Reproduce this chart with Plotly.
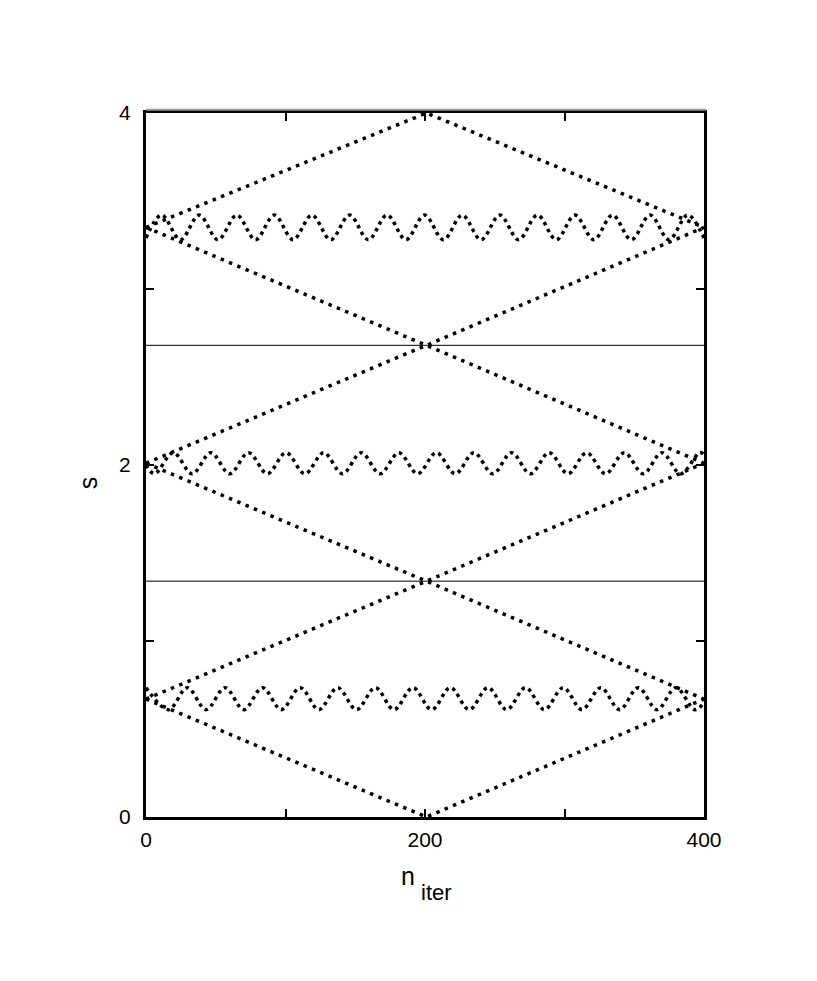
"""Iteration diagram: s versus n_iter, dotted trajectories with two separators."""
import plotly.graph_objects as go

# x positions of the straight dotted branches (start, apex, end)
DIAG_X = [0, 201, 400]
DIAG_A = [3.35, 4.00, 3.35]
DIAG_B = [3.35, 2.68, 3.35]
DIAG_C = [2.01, 2.68, 2.01]
DIAG_D = [2.01, 1.34, 2.01]
DIAG_E = [0.67, 1.34, 0.67]
DIAG_F = [0.67, 0.00, 0.67]

# wavy branches: turning points (peaks / troughs)
WAVE_TOP_X = [0, 11.2, 24.7, 38.1, 51.6, 65.1, 78.5, 92.0, 105.5, 118.9, 132.4,
              145.9, 159.4, 172.8, 186.3, 199.7, 213.2, 226.7, 240.2, 253.6,
              267.1, 280.6, 294.1, 307.5, 321.0, 334.4, 347.9, 361.4, 374.9,
              388.3, 400]
WAVE_TOP_Y = [3.29, 3.42, 3.28, 3.42, 3.28, 3.42, 3.28, 3.42, 3.28, 3.42, 3.28,
              3.42, 3.28, 3.42, 3.28, 3.42, 3.28, 3.42, 3.28, 3.42, 3.28, 3.42,
              3.28, 3.42, 3.28, 3.42, 3.28, 3.42, 3.28, 3.42, 3.29]

WAVE_MID_X = [0, 6.1, 19.6, 33.1, 46.5, 60.0, 73.5, 87.0, 100.4, 113.9, 127.4,
              140.8, 154.3, 167.8, 181.2, 194.7, 208.2, 221.7, 235.1, 248.6,
              262.1, 275.5, 289.0, 302.5, 315.9, 329.4, 342.9, 356.4, 369.8,
              383.3, 396.8, 400]
WAVE_MID_Y = [2.00, 1.95, 2.07, 1.95, 2.07, 1.95, 2.07, 1.95, 2.07, 1.95, 2.07,
              1.95, 2.07, 1.95, 2.07, 1.95, 2.07, 1.95, 2.07, 1.95, 2.07, 1.95,
              2.07, 1.95, 2.07, 1.95, 2.07, 1.95, 2.07, 1.95, 2.07, 2.06]

WAVE_LOW_X = [0, 16.2, 29.6, 43.1, 56.6, 70.1, 83.5, 97.0, 110.5, 123.9, 137.4,
              150.9, 164.4, 177.8, 191.3, 204.8, 218.2, 231.7, 245.2, 258.6,
              272.1, 285.6, 299.1, 312.5, 326.0, 339.5, 352.9, 366.4, 379.9,
              393.4, 400]
WAVE_LOW_Y = [0.735, 0.61, 0.735, 0.61, 0.735, 0.61, 0.735, 0.61, 0.735, 0.61,
              0.735, 0.61, 0.735, 0.61, 0.735, 0.61, 0.735, 0.61, 0.735, 0.61,
              0.735, 0.61, 0.735, 0.61, 0.735, 0.61, 0.735, 0.61, 0.735, 0.61,
              0.65]

HLINE_X = [0, 400]
HLINE_Y = [2.68, 1.34]

X_TICKS = [0, 100, 200, 300, 400]
X_LABELS = ["0", "", "200", "", "400"]
Y_TICKS = [0, 1, 2, 3, 4]
Y_LABELS = ["0", "", "2", "", "4"]

FONT = "Liberation Sans, Arial, Helvetica, sans-serif"
DIAG_DASH = "3.5px,5.5px"
WAVE_DASH = "3.5px,4px"

fig = go.Figure()

for ys in (DIAG_A, DIAG_B, DIAG_C, DIAG_D, DIAG_E, DIAG_F):
    fig.add_trace(go.Scatter(x=DIAG_X, y=ys, mode="lines",
                             line=dict(color="black", width=3.5, dash=DIAG_DASH)))

for xs, ys in ((WAVE_TOP_X, WAVE_TOP_Y), (WAVE_MID_X, WAVE_MID_Y),
               (WAVE_LOW_X, WAVE_LOW_Y)):
    fig.add_trace(go.Scatter(x=xs, y=ys, mode="lines",
                             line=dict(color="black", width=3.5, dash=WAVE_DASH,
                                       shape="spline", smoothing=1.0)))

for yv in HLINE_Y:
    fig.add_trace(go.Scatter(x=HLINE_X, y=[yv, yv], mode="lines",
                             line=dict(color="black", width=1)))

# the page body adds an 8px offset on the left and top only
fig.update_layout(
    width=809, height=973,
    paper_bgcolor="white", plot_bgcolor="white",
    font=dict(family=FONT, color="black", size=21),
    margin=dict(l=138, r=113, t=105, b=164),
    showlegend=False,
)
axis_style = dict(showgrid=False, zeroline=False, showline=True, linecolor="black",
                  linewidth=3, mirror="ticks", ticks="inside", ticklen=8,
                  tickwidth=2, tickcolor="black", tickfont=dict(size=21))
fig.update_xaxes(range=[0, 400], tickvals=X_TICKS, ticktext=X_LABELS,
                 ticklabelstandoff=2, **axis_style)
fig.update_yaxes(range=[0, 4], tickvals=Y_TICKS, ticktext=Y_LABELS,
                 ticklabelstandoff=8, **axis_style)

# grey shadow line above the top frame
fig.add_shape(type="line", xref="paper", yref="paper", x0=0, x1=1.003,
              y0=1.0045, y1=1.0045, line=dict(color="#9a9a9a", width=2))

# axis titles, gnuplot style
fig.add_annotation(text="n", xref="paper", yref="paper", x=0.4697, y=-0.0845,
                   xanchor="center", yanchor="middle",
                   showarrow=False, font=dict(size=25))
fig.add_annotation(text="iter", xref="paper", yref="paper", x=0.489, y=-0.1075,
                   xanchor="left", yanchor="middle",
                   showarrow=False, font=dict(size=22))
fig.add_annotation(text="s", xref="paper", yref="paper", x=-0.1039, y=0.474,
                   xanchor="center", yanchor="middle", textangle=-90,
                   showarrow=False, font=dict(size=25))

fig.write_html("out.html")
